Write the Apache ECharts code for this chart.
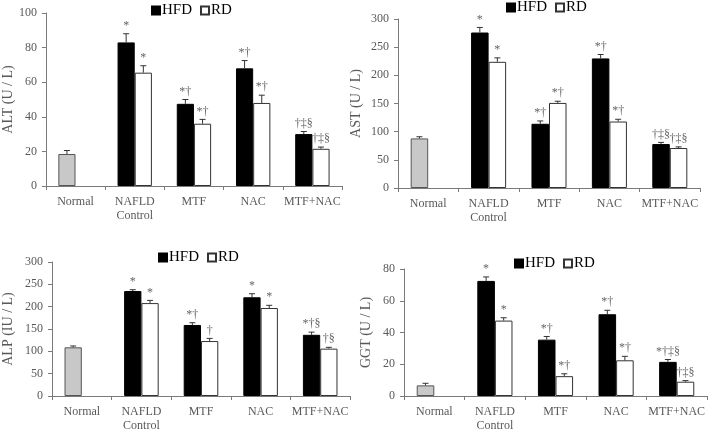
<!DOCTYPE html>
<html><head><meta charset="utf-8">
<script src="https://cdn.jsdelivr.net/npm/echarts@6/dist/echarts.min.js"></script>
<style>html,body{margin:0;padding:0;background:#fff}#c{width:711px;height:433px}</style>
</head><body><div id="c"></div>
<script>
const categories = ['Normal', 'NAFLD\nControl', 'MTF', 'NAC', 'MTF+NAC'];
const legendNames = ['HFD', 'RD'];

const altTicks = [0, 20, 40, 60, 80, 100];
const altHFD = [18.5, 83, 47.5, 68, 30];
const altRD = [null, 65.5, 36, 48, 21.5];
const altHFDErr = [2, 5, 2.5, 4.5, 1.5];
const altRDErr = [null, 4, 2.5, 4.5, 1];
const altHFDSig = ['', '*', '*†', '*†', '†‡§'];
const altRDSig = ['', '*', '*†', '*†', '†‡§'];

const astTicks = [0, 50, 100, 150, 200, 250, 300];
const astHFD = [88, 276, 114, 230, 78];
const astRD = [null, 224, 151, 118, 71];
const astHFDErr = [3, 9, 5, 7, 3];
const astRDErr = [null, 7, 3, 4, 2];
const astHFDSig = ['', '*', '*†', '*†', '†‡§'];
const astRDSig = ['', '*', '*†', '*†', '†‡§'];

const alpTicks = [0, 50, 100, 150, 200, 250, 300];
const alpHFD = [109, 235, 159, 221, 137];
const alpRD = [null, 208, 123, 197, 106];
const alpHFDErr = [3, 3, 5, 8, 6];
const alpRDErr = [null, 6, 6, 6, 3];
const alpHFDSig = ['', '*', '*†', '*', '*†§'];
const alpRDSig = ['', '*', '†', '*', '†§'];

const ggtTicks = [0, 20, 40, 60, 80];
const ggtHFD = [6.7, 72.5, 35.5, 51.5, 21.5];
const ggtRD = [null, 47.5, 12.5, 22.5, 9];
const ggtHFDErr = [1.3, 2.5, 2, 2.5, 1.5];
const ggtRDErr = [null, 1.8, 1.5, 2.5, 0.7];
const ggtHFDSig = ['', '*', '*†', '*†', '*†‡§'];
const ggtRDSig = ['', '*', '*†', '*†', '†‡§'];

const SERIF = '"Liberation Serif", "Times New Roman", serif';
const GRAY = '#595959';
const AXIS = '#7a7a7a';
const CAT_GAP = 0.42;

const panels = [
  { name: 'ALT (U / L)', ticks: altTicks, hfd: altHFD, rd: altRD, hfdErr: altHFDErr, rdErr: altRDErr, hfdSig: altHFDSig, rdSig: altRDSig,
    grid: { left: 41, top: 13, width: 301, height: 173 }, nameGap: 25, legend: { left: 151, top: 3 } },
  { name: 'AST (U / L)', ticks: astTicks, hfd: astHFD, rd: astRD, hfdErr: astHFDErr, rdErr: astRDErr, hfdSig: astHFDSig, rdSig: astRDSig,
    grid: { left: 398, top: 19, width: 302, height: 169 }, nameGap: 35, legend: { left: 506, top: 0 } },
  { name: 'ALP (IU / L)', ticks: alpTicks, hfd: alpHFD, rd: alpRD, hfdErr: alpHFDErr, rdErr: alpRDErr, hfdSig: alpHFDSig, rdSig: alpRDSig,
    grid: { left: 51, top: 262, width: 299, height: 137 }, nameGap: 37, legend: { left: 158, top: 250 } },
  { name: 'GGT (U / L)', ticks: ggtTicks, hfd: ggtHFD, rd: ggtRD, hfdErr: ggtHFDErr, rdErr: ggtRDErr, hfdSig: ggtHFDSig, rdSig: ggtRDSig,
    grid: { left: 404, top: 269, width: 303, height: 130 }, nameGap: 31, legend: { left: 514, top: 256 } }
];

function errSeries(p, idx, side) {
  const vals = side === 0 ? p.hfd : p.rd;
  const errs = side === 0 ? p.hfdErr : p.rdErr;
  const sigs = side === 0 ? p.hfdSig : p.rdSig;
  const data = [];
  vals.forEach((v, i) => { if (v != null) data.push([i, v, errs[i], i]); });
  return {
    type: 'custom', xAxisIndex: idx, yAxisIndex: idx, z: 5, silent: true,
    data: data,
    encode: { x: 0, y: 1 },
    renderItem: function (params, api) {
      const ci = api.value(0), v = api.value(1), e = api.value(2), k = api.value(3);
      const band = api.size([1, 0])[0];
      const bw = band * (1 - CAT_GAP) / 2;
      const c = api.coord([ci, v]);
      const top = api.coord([ci, v + e]);
      const x = c[0] + (side === 0 ? -bw / 2 : bw / 2);
      const children = [
        { type: 'line', shape: { x1: x, y1: c[1], x2: x, y2: top[1] }, style: { stroke: '#333', lineWidth: 1 } },
        { type: 'line', shape: { x1: x - 3, y1: top[1], x2: x + 3, y2: top[1] }, style: { stroke: '#333', lineWidth: 1 } }
      ];
      const s = sigs[k];
      if (s) {
        children.push({ type: 'text', x: x, y: top[1] - 2,
          style: { text: s, fill: '#666', font: '12px ' + SERIF, align: 'center', verticalAlign: 'bottom' } });
      }
      return { type: 'group', children: children };
    }
  };
}

const option = {
  animation: false,
  backgroundColor: '#fff',
  grid: [], xAxis: [], yAxis: [], legend: [], series: []
};

panels.forEach((p, idx) => {
  option.grid.push(Object.assign({ containLabel: false }, p.grid));
  option.legend.push({
    data: legendNames, left: p.legend.left, top: p.legend.top, padding: 0,
    itemWidth: 8, itemHeight: 8, itemGap: 8, icon: 'rect',
    textStyle: { fontFamily: SERIF, fontSize: 15, color: '#000', padding: [0, 0, 0, -3] }
  });
  option.xAxis.push({
    type: 'category', gridIndex: idx, data: categories,
    axisLine: { lineStyle: { color: AXIS } },
    axisTick: { show: true, length: 4, alignWithLabel: false, lineStyle: { color: AXIS } },
    axisLabel: { fontFamily: SERIF, fontSize: 12, color: GRAY, margin: 9, lineHeight: 14, interval: 0 }
  });
  const t = p.ticks;
  option.yAxis.push({
    type: 'value', gridIndex: idx, min: t[0], max: t[t.length - 1], interval: t[1] - t[0],
    name: p.name, nameLocation: 'middle', nameGap: p.nameGap,
    nameTextStyle: { fontFamily: SERIF, fontSize: 14, color: GRAY },
    axisLine: { show: true, lineStyle: { color: AXIS } },
    axisTick: { show: true, length: 4, lineStyle: { color: AXIS } },
    splitLine: { show: false },
    axisLabel: { fontFamily: SERIF, fontSize: 12, color: GRAY, margin: 9 }
  });
  option.series.push({
    name: 'HFD', type: 'bar', xAxisIndex: idx, yAxisIndex: idx,
    barGap: '0%', barCategoryGap: (CAT_GAP * 100) + '%',
    itemStyle: { color: '#000', borderColor: '#000', borderWidth: 1 },
    data: p.hfd.map((v, i) => i === 0 ? { value: v, itemStyle: { color: '#c8c8c8', borderColor: '#555' } } : v)
  });
  option.series.push({
    name: 'RD', type: 'bar', xAxisIndex: idx, yAxisIndex: idx,
    barGap: '0%', barCategoryGap: (CAT_GAP * 100) + '%',
    itemStyle: { color: '#fff', borderColor: '#333', borderWidth: 1 },
    data: p.rd
  });
  option.series.push(errSeries(p, idx, 0));
  option.series.push(errSeries(p, idx, 1));
});

const chart = echarts.init(document.getElementById('c'), null, { renderer: 'canvas' });
chart.setOption(option);
</script>
</body></html>
